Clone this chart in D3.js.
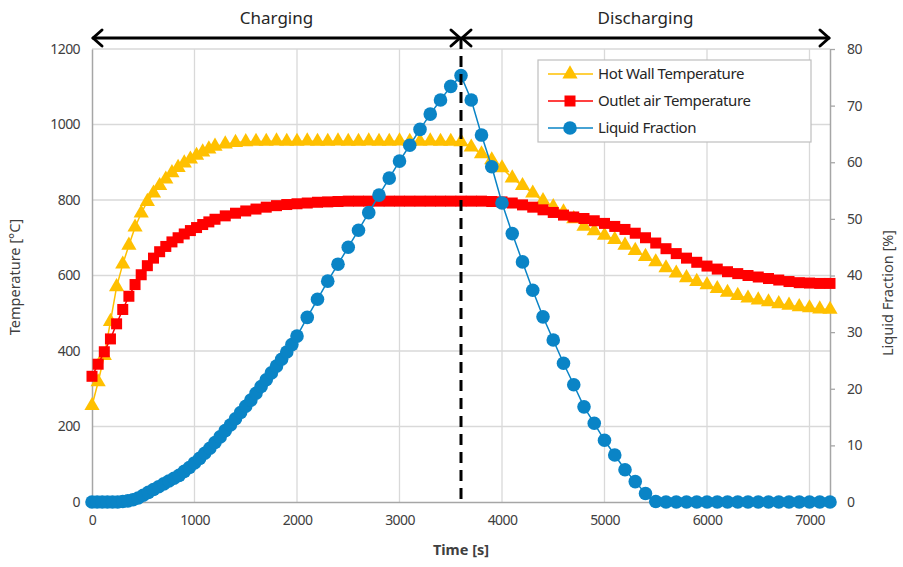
<!DOCTYPE html>
<html>
<head>
<meta charset="utf-8">
<script src="https://cdn.jsdelivr.net/npm/d3@7"></script>
<style>
body { margin: 0; background: #fff; }
text { font-family: "Noto Sans", sans-serif; }
</style>
</head>
<body>
<script>
// time stamps [s] of the temperature series
var tempTime = [0,60,120,180,240,300,360,420,480,540,600,660,720,780,840,900,960,1020,1080,1140,1200,
  1300,1400,1500,1600,1700,1800,1900,2000,2100,2200,2300,2400,2500,2600,2700,2800,2900,3000,3100,3200,3300,3400,3500,3600,
  3700,3800,3900,4000,4100,4200,4300,4400,4500,4600,4700,4800,4900,5000,5100,5200,5300,5400,5500,5600,5700,5800,5900,6000,
  6100,6200,6300,6400,6500,6600,6700,6800,6900,7000,7100,7200];

var hotWall = [255,318,388,478,570,630,680,728,765,796,818,838,855,872,886,898,908,918,927,935,942,
  948,952,954,955,955,956,955,955,956,955,955,956,955,955,956,955,955,956,955,955,956,955,955,954,
  940,922,906,885,858,838,818,798,782,768,750,730,718,706,695,680,666,650,636,620,606,594,584,575,
  565,555,547,540,535,530,525,521,517,514,511,510];

var outletAir = [333,365,398,432,472,510,545,576,602,626,646,663,677,689,700,710,719,727,735,742,749,
  758,765,771,776,781,785,788,790,792,794,795,796,797,797,797,797,797,797,797,797,797,797,797,797,
  797,797,796,795,792,787,781,774,767,760,755,751,745,738,730,722,712,700,686,671,658,646,635,625,
  617,610,605,600,596,592,588,584,581,580,579,579];

// time stamps [s] of the liquid fraction series
var lfTime = [0,50,100,150,200,250,300,350,400,450,500,550,600,650,700,750,800,850,900,950,1000,
  1050,1100,1150,1200,1250,1300,1350,1400,1450,1500,1550,1600,1650,1700,1750,1800,1850,1900,1950,2000,
  2100,2200,2300,2400,2500,2600,2700,2800,2900,3000,3100,3200,3300,3400,3500,3600,
  3700,3800,3900,4000,4100,4200,4300,4400,4500,4600,4700,4800,4900,5000,5100,5200,5300,5400,5500,
  5600,5700,5800,5900,6000,6100,6200,6300,6400,6500,6600,6700,6800,6900,7000,7100,7200];

var liquidFraction = [0,0,0,0,0,0,0.1,0.2,0.4,0.7,1.2,1.7,2.2,2.7,3.2,3.7,4.2,4.7,5.4,6.1,6.9,
  7.7,8.6,9.5,10.5,11.5,12.6,13.6,14.7,15.8,16.9,18.0,19.2,20.4,21.6,22.8,24.0,25.2,26.5,27.8,29.3,
  32.6,35.8,39.0,42.0,45.0,48.0,51.1,54.2,57.2,60.2,63.0,65.8,68.5,71.0,73.4,75.3,
  71.0,64.8,59.2,52.8,47.4,42.4,37.4,32.7,28.6,24.5,20.7,16.8,13.9,10.9,8.3,5.7,3.6,1.5,0.1,
  0,0,0,0,0,0,0,0,0,0,0,0,0,0,0,0,0];

var xTicks = [0,1000,2000,3000,4000,5000,6000,7000];
var tempTicks = [0,200,400,600,800,1000,1200];
var lfTicks = [0,10,20,30,40,50,60,70,80];
var phases = [{name:"Charging", from:0, to:3600}, {name:"Discharging", from:3600, to:7200}];
var seriesNames = ["Hot Wall Temperature", "Outlet air Temperature", "Liquid Fraction"];

var svg = d3.select("body").append("svg").attr("width",903).attr("height",567);

var x = d3.scaleLinear().domain([0,7200]).range([92,830]);
var yT = d3.scaleLinear().domain([0,1200]).range([502,49]);
var yL = d3.scaleLinear().domain([0,80]).range([502,49]);
var plain = d3.format("d");

// grid
svg.append("g").selectAll("line")
  .data(tempTicks.slice(1))
  .enter().append("line")
    .attr("x1",x(0)).attr("x2",x(7200))
    .attr("y1",function(d){ return yT(d); })
    .attr("y2",function(d){ return yT(d); })
    .attr("stroke","#d9d9d9").attr("stroke-width",1.3);
svg.append("g").selectAll("line")
  .data(xTicks.slice(1))
  .enter().append("line")
    .attr("x1",function(d){ return x(d); })
    .attr("x2",function(d){ return x(d); })
    .attr("y1",yT(0)).attr("y2",yT(1200))
    .attr("stroke","#d9d9d9").attr("stroke-width",1.3);

// axes
var axL = svg.append("g").attr("transform","translate("+x(0)+",0)")
  .call(d3.axisLeft(yT).tickValues(tempTicks).tickFormat(plain).tickSize(0).tickPadding(12));
var axR = svg.append("g").attr("transform","translate("+x(7200)+",0)")
  .call(d3.axisRight(yL).tickValues(lfTicks).tickFormat(plain).tickSize(5).tickSizeOuter(0).tickPadding(12));
var axB = svg.append("g").attr("transform","translate(0,"+yT(0)+")")
  .call(d3.axisBottom(x).tickValues(xTicks).tickFormat(plain).tickSize(0).tickPadding(13));
[axL,axR,axB].forEach(function(a){
  a.select(".domain").attr("stroke","#a6a6a6").attr("stroke-width",1.5);
  a.selectAll(".tick line").attr("stroke","#a6a6a6").attr("stroke-width",1.3);
  a.selectAll("text").attr("font-family","Noto Sans").attr("font-size",14)
    .attr("fill","#404040").attr("letter-spacing","-0.6");
});

// axis titles
svg.append("text").attr("transform","translate(20,277) rotate(-90)")
  .attr("text-anchor","middle").attr("font-size",14.5).attr("fill","#404040")
  .text("Temperature [°C]");
svg.append("text").attr("transform","translate(893,293) rotate(-90)")
  .attr("text-anchor","middle").attr("font-size",14.5).attr("fill","#404040")
  .text("Liquid Fraction [%]");
svg.append("text").attr("x",x(3600)).attr("y",555)
  .attr("text-anchor","middle").attr("font-size",14.5).attr("font-weight","bold").attr("fill","#404040")
  .text("Time [s]");

// series
var colors = ["#ffc000","#ff0000","#0a84c6"];
var lineT = d3.line().x(function(d){ return x(d[0]); }).y(function(d){ return yT(d[1]); });
var lineL = d3.line().x(function(d){ return x(d[0]); }).y(function(d){ return yL(d[1]); });

var hwData = d3.zip(tempTime, hotWall);
var oaData = d3.zip(tempTime, outletAir);
var lfData = d3.zip(lfTime, liquidFraction);

svg.append("path").datum(hwData).attr("d",lineT)
  .attr("fill","none").attr("stroke",colors[0]).attr("stroke-width",1.5);
svg.append("g").selectAll("path")
  .data(hwData)
  .enter().append("path")
    .attr("d",d3.symbol().type(d3.symbolTriangle).size(100))
    .attr("transform",function(d){ return "translate("+x(d[0])+","+yT(d[1])+")"; })
    .attr("fill",colors[0]);

svg.append("path").datum(oaData).attr("d",lineT)
  .attr("fill","none").attr("stroke",colors[1]).attr("stroke-width",1.5);
svg.append("g").selectAll("rect")
  .data(oaData)
  .enter().append("rect")
    .attr("x",function(d){ return x(d[0])-5.5; })
    .attr("y",function(d){ return yT(d[1])-5.5; })
    .attr("width",11).attr("height",11)
    .attr("fill",colors[1]);

svg.append("path").datum(lfData).attr("d",lineL)
  .attr("fill","none").attr("stroke",colors[2]).attr("stroke-width",1.5);
svg.append("g").selectAll("circle")
  .data(lfData)
  .enter().append("circle")
    .attr("cx",function(d){ return x(d[0]); })
    .attr("cy",function(d){ return yL(d[1]); })
    .attr("r",6.8)
    .attr("fill",colors[2]);

// phase separator and arrows
var arrowY = 38;
svg.append("line")
  .attr("x1",x(3600)).attr("x2",x(3600))
  .attr("y1",arrowY).attr("y2",yT(0))
  .attr("stroke","#000").attr("stroke-width",3).attr("stroke-dasharray","11,7");

phases.forEach(function(p){
  var a = x(p.from)+1, b = x(p.to)-1;
  var g = svg.append("g").attr("stroke","#000").attr("stroke-width",3).attr("fill","none")
    .attr("stroke-linecap","round").attr("stroke-linejoin","round");
  g.append("line").attr("x1",a).attr("x2",b).attr("y1",arrowY).attr("y2",arrowY);
  g.append("polyline").attr("points",(a+9)+","+(arrowY-8)+" "+a+","+arrowY+" "+(a+9)+","+(arrowY+8));
  g.append("polyline").attr("points",(b-9)+","+(arrowY-8)+" "+b+","+arrowY+" "+(b-9)+","+(arrowY+8));
  svg.append("text").attr("x",(x(p.from)+x(p.to))/2).attr("y",24)
    .attr("text-anchor","middle").attr("font-size",17).attr("fill","#262626")
    .text(p.name);
});

// legend
var lg = svg.append("g").attr("transform","translate(538,60)");
lg.append("rect").attr("width",273).attr("height",82)
  .attr("fill","#fff").attr("stroke","#bfbfbf").attr("stroke-width",1.2);
seriesNames.forEach(function(name,i){
  var yy = 14 + i*27;
  lg.append("line").attr("x1",10).attr("x2",55).attr("y1",yy).attr("y2",yy)
    .attr("stroke",colors[i]).attr("stroke-width",1.5);
  if (i === 0) {
    lg.append("path").attr("d",d3.symbol().type(d3.symbolTriangle).size(100))
      .attr("transform","translate(32,"+yy+")").attr("fill",colors[i]);
  } else if (i === 1) {
    lg.append("rect").attr("x",26.5).attr("y",yy-5.5).attr("width",11).attr("height",11).attr("fill",colors[i]);
  } else {
    lg.append("circle").attr("cx",32).attr("cy",yy).attr("r",6.8).attr("fill",colors[i]);
  }
  lg.append("text").attr("x",60).attr("y",yy+5).attr("font-size",15).attr("fill","#262626")
    .attr("letter-spacing","-0.4")
    .text(name);
});
</script>
</body>
</html>
